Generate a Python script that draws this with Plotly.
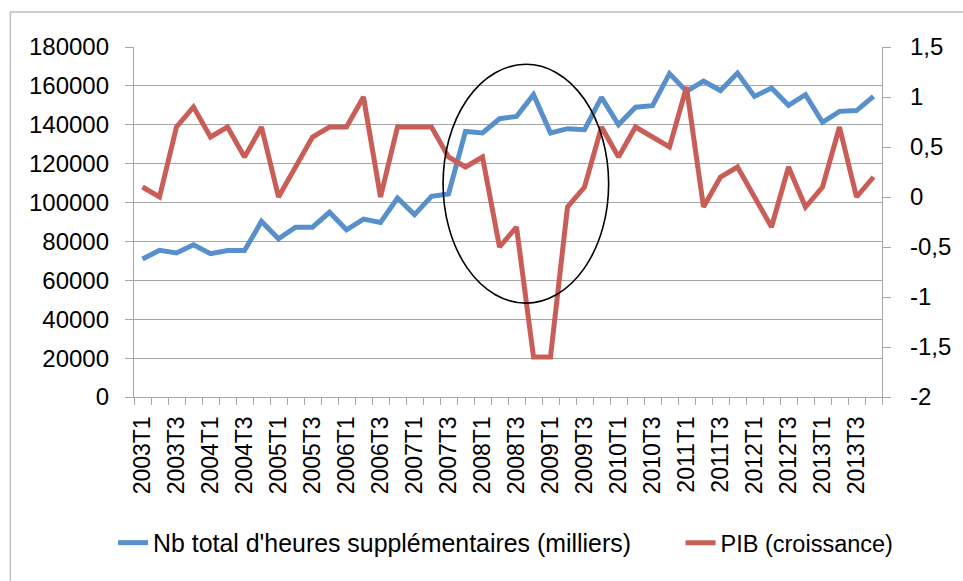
import plotly.graph_objects as go

quarters = [f"{y}T{q}" for y in range(2003, 2014) for q in range(1, 5)]
tick_labels = [q if i % 2 == 0 else "" for i, q in enumerate(quarters)]

heures = [71000, 75400, 74100, 78300, 73700, 75300, 75300, 90300, 81400, 87300, 87300, 95000,
          86000, 91500, 89800, 102300, 93800, 103200, 104400, 136600, 135800, 143100, 144300, 155500,
          135800, 138000, 137500, 154100, 140000, 149000, 149800, 166300, 157200, 162400, 157600, 166600,
          154600, 158900, 150000, 155500, 141300, 146900, 147300, 154600]

pib = [0.1, 0.0, 0.7, 0.9, 0.6, 0.7, 0.4, 0.7, 0.0, 0.3, 0.6, 0.7,
       0.7, 1.0, 0.0, 0.7, 0.7, 0.7, 0.4, 0.3, 0.4, -0.5, -0.3, -1.6,
       -1.6, -0.1, 0.1, 0.7, 0.4, 0.7, 0.6, 0.5, 1.1, -0.1, 0.2, 0.3,
       0.0, -0.3, 0.3, -0.1, 0.1, 0.7, 0.0, 0.2]

left_ticks = [0, 20000, 40000, 60000, 80000, 100000, 120000, 140000, 160000, 180000]
right_ticks = [-2, -1.5, -1, -0.5, 0, 0.5, 1, 1.5]
right_tick_text = ["-2", "-1,5", "-1", "-0,5", "0", "0,5", "1", "1,5"]

name_h = "Nb total d'heures supplémentaires (milliers)"
name_p = "PIB (croissance)"

blue = "#5790CA"
red = "#C95D57"
grid = "#a6a6a6"
font = "Liberation Sans"

fig = go.Figure()
fig.add_trace(go.Scatter(x=quarters, y=heures, name=name_h, mode="lines",
                         line=dict(color=blue, width=5), yaxis="y", legend="legend"))
fig.add_trace(go.Scatter(x=quarters, y=pib, name=name_p, mode="lines",
                         line=dict(color=red, width=5), yaxis="y2", legend="legend2"))

fig.update_layout(
    width=963, height=581,
    margin=dict(l=134, r=79, t=47, b=184),
    paper_bgcolor="white", plot_bgcolor="white",
    font=dict(family=font, size=22, color="black"),
    showlegend=True,
    legend=dict(orientation="h", x=-0.028, xanchor="left", y=-0.417, yanchor="middle",
                font=dict(family=font, size=24.9, color="black"), bgcolor="rgba(0,0,0,0)"),
    legend2=dict(orientation="h", x=0.7307, xanchor="left", y=-0.417, yanchor="middle",
                 font=dict(family=font, size=23.5, color="black"), bgcolor="rgba(0,0,0,0)"),
    xaxis=dict(type="category", range=[-0.5, len(quarters) - 0.5],
               tickmode="array", tickvals=quarters, ticktext=tick_labels,
               tickson="boundaries", ticks="outside", ticklen=7, tickcolor=grid, tickwidth=1.3,
               tickangle=-90, showgrid=False, showline=True, linecolor=grid, linewidth=1.3,
               tickfont=dict(family=font, size=23), ticklabelstandoff=9, zeroline=False),
    yaxis=dict(range=[0, 180000], tickmode="array", tickvals=left_ticks, tickformat="d",
               showgrid=True, gridcolor=grid, gridwidth=1.3,
               showline=True, linecolor=grid, linewidth=1.3,
               ticks="outside", ticklen=8, tickcolor=grid, tickwidth=1.3,
               tickfont=dict(family=font, size=24), ticklabelstandoff=11, zeroline=False),
    yaxis2=dict(range=[-2, 1.5], overlaying="y", side="right", tickmode="array",
                tickvals=right_ticks, ticktext=right_tick_text, showgrid=False,
                showline=True, linecolor=grid, linewidth=1.3,
                ticks="outside", ticklen=8, tickcolor=grid, tickwidth=1.3,
                tickfont=dict(family=font, size=24), ticklabelstandoff=14, zeroline=False),
)

# ellipse highlighting the 2008-2009 crisis
fig.add_shape(type="circle", xref="x", yref="y", x0=17.68, x1=27.42, y0=48300, y1=171100,
              line=dict(color="black", width=1.6), layer="above")

# chart border
fig.add_shape(type="rect", xref="paper", yref="paper", x0=-0.1653, x1=1.12, y0=-0.6, y1=1.1,
              line=dict(color="#bfbfbf", width=1.5), layer="below")

fig.write_html("out.html", config={"displayModeBar": False},
               post_script="document.body.style.margin='0';document.body.style.overflow='hidden';")
